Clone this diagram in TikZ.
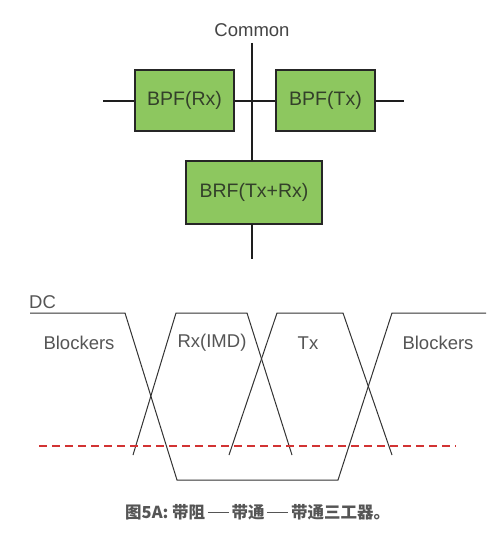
\documentclass[tikz,border=0pt]{standalone}
\usepackage{fontspec}
\setmainfont{Liberation Sans}
\newfontfamily\cjk{Noto Sans CJK SC}
\definecolor{boxgreen}{HTML}{8DC75F}
\definecolor{boxline}{HTML}{262626}
\definecolor{boxtext}{HTML}{33402A}
\definecolor{wirec}{HTML}{1E1E1E}
\definecolor{respc}{HTML}{333333}
\definecolor{lblc}{HTML}{555555}
\definecolor{capc}{HTML}{555555}
\definecolor{dashred}{HTML}{D23333}
\newcommand{\capdash}{\,\raisebox{0.33em}{\rule{21pt}{1.3pt}}\,}
\begin{document}
\begin{tikzpicture}[x=1pt,y=-1pt,
  box/.style={draw=boxline,line width=1.4pt,fill=boxgreen,minimum width=99pt,minimum height=61pt,inner sep=0pt,font=\fontsize{19.5}{20}\selectfont,text=boxtext},
  wire/.style={line width=1.4pt,draw=wirec},
  resp/.style={line width=1pt,draw=respc,line join=miter},
  lbl/.style={font=\fontsize{18.5}{20}\selectfont,text=lblc,inner sep=0pt},
  reddash/.style={line width=1.4pt,draw=dashred,dash pattern=on 8pt off 5pt}]
\useasboundingbox (0,0) rectangle (500,537);
\fill[white] (0,0) rectangle (500,537);

% top block diagram
\node[lbl,text=lblc!80!black] (common) at (252,30) {Common};
\node[box] (rx) at (184.5,100.5) {BPF(Rx)};
\node[box] (tx) at (325.5,100.5) {BPF(Tx)};
\node[box,minimum width=136pt,minimum height=63pt] (brf) at (254,192.5) {BRF(Tx+Rx)};
\coordinate (vtop) at (252,43);
\coordinate (vjoin) at (252,161);
\coordinate (vbot) at (252,259);
\coordinate (rxend) at (103,101);
\coordinate (txend) at (404,101);
\coordinate (brfbot) at (252,224);
\draw[wire] (vtop) -- (vjoin);
\draw[wire] (brfbot) -- (vbot);
\draw[wire] (rxend) -- (rx.west |- rxend);
\draw[wire] (rx.east |- rxend) -- (tx.west |- rxend);
\draw[wire] (tx.east |- txend) -- (txend);

% frequency responses
\node[lbl,anchor=base west] (dc) at (29,308) {DC};
\draw[resp] (30,313) -- (125,313) -- (177,480) -- (338,480) -- (392,313) -- (486,313);
\draw[resp] (133,455) -- (176,313) -- (247,313) -- (292,455);
\draw[resp] (229,455) -- (277,313) -- (343,313) -- (392,455);
\draw[reddash] (39,446) -- (456,446);

\node[lbl] (blk1) at (79,343) {Blockers};
\node[lbl] (rximd) at (212,343) {Rx(IMD)};
\node[lbl] (txl) at (308,343) {Tx};
\node[lbl] (blk2) at (438,343) {Blockers};

% caption
\node[font=\cjk\bfseries\fontsize{16.5}{18}\selectfont,text=capc,inner sep=0pt,anchor=west] (cap) at (125,512) {图5A: 带阻\capdash 带通\capdash 带通三工器。};
\end{tikzpicture}
\end{document}
